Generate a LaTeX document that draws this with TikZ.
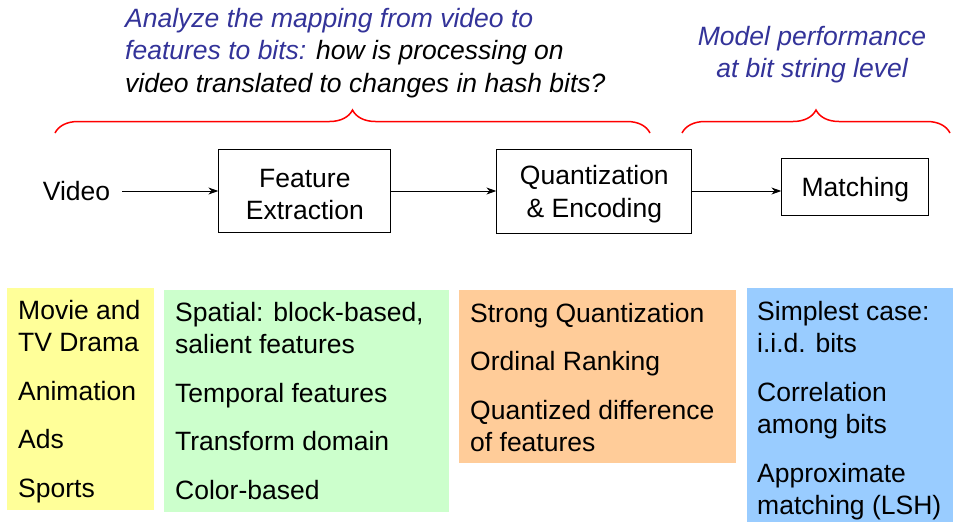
\documentclass[tikz,border=0pt]{standalone}
\usepackage{fontspec}
\setmainfont{Liberation Sans}
\usepackage{xcolor}
\usetikzlibrary{positioning, arrows.meta, decorations.pathreplacing}
\definecolor{slideblue}{HTML}{333399}
\definecolor{genrefill}{HTML}{FFFF99}
\definecolor{featfill}{HTML}{CCFFCC}
\definecolor{quantfill}{HTML}{FFCC99}
\definecolor{matchfill}{HTML}{99CCFF}
\newcommand{\slidefont}{\fontsize{26.5}{32.5}\selectfont}
\newcommand{\boxstrut}{\rule{0pt}{25pt}}

\begin{document}
\begin{tikzpicture}[
    x=1pt, y=-1pt,
    font=\slidefont,
    box/.style={rectangle, draw, line width=1pt, align=center, inner sep=0pt},
    panel/.style={rectangle, inner sep=0pt, anchor=north west},
    itemlist/.style={align=left, inner sep=0pt, anchor=north west},
    note/.style={align=left, inner sep=0pt, font=\slidefont\itshape},
    bracket/.style={draw=red, line width=1.5pt, decorate, decoration={brace, amplitude=23pt}},
    arrow/.style={-{Stealth[length=10pt, width=7pt]}, line width=1pt}
]
    \useasboundingbox (0,0) rectangle (953,522);

    % annotations on top
    \node[note, anchor=north west] (mapnote) at (125,7.7) {\textcolor{slideblue}{Analyze the mapping from video to}\\
        \textcolor{slideblue}{features to bits:} how is processing on\\
        video translated to changes in hash bits?};
    \node[note, align=center, anchor=north, text=slideblue] (perfnote) at (812,25.7) {Model performance\\ at bit string level};

    \coordinate (mapleft) at (55,133);
    \coordinate (mapright) at (650,133);
    \coordinate (perfleft) at (682,133);
    \coordinate (perfright) at (950,133);
    \draw[bracket] (mapleft) -- (mapright);
    \draw[bracket] (perfleft) -- (perfright);

    % processing chain
    \node[inner ysep=0pt, inner xsep=12pt] (video) at (76.5,191) {Video};
    \node[box, minimum width=172pt, minimum height=83pt, right=96pt of video] (feature) {\boxstrut Feature\\ Extraction};
    \node[box, minimum width=195pt, minimum height=84pt, right=105pt of feature] (quant) {\boxstrut Quantization\\ \& Encoding};
    \node[box, minimum width=147pt, minimum height=57pt, right=89pt of quant, yshift=4.5pt] (match) {\rule{0pt}{26pt}Matching};

    \draw[arrow] (video) -- (feature);
    \draw[arrow] (feature) -- (quant);
    \draw[arrow] (quant.east) -- (match.west |- quant.east);

    % coloured panels
    \node[panel, fill=genrefill, minimum width=147pt, minimum height=222pt] (genre) at (7,288) {};
    \node[panel, fill=featfill, minimum width=285pt, minimum height=222pt] (feat) at (164,290) {};
    \node[panel, fill=quantfill, minimum width=277pt, minimum height=173pt] (quantpanel) at (459,290) {};
    \node[panel, fill=matchfill, minimum width=206pt, minimum height=234pt] (matchpanel) at (747,288) {};

    \node[itemlist] (genrelist) at (18,300) {Movie and\\ TV Drama\\[16pt] Animation\\[16pt] Ads\\[16pt] Sports};
    \node[itemlist] (featlist) at (175,302) {Spatial: block-based,\\ salient features\\[16pt] Temporal features\\[16pt] Transform domain\\[16pt] Color-based};
    \node[itemlist] (quantlist) at (470,303) {Strong Quantization\\[16pt] Ordinal Ranking\\[16pt] Quantized difference\\ of features};
    \node[itemlist] (matchlist) at (757,301) {Simplest case:\\ i.i.d. bits\\[16pt] Correlation\\ among bits\\[16pt] Approximate\\ matching (LSH)};
\end{tikzpicture}
\end{document}
